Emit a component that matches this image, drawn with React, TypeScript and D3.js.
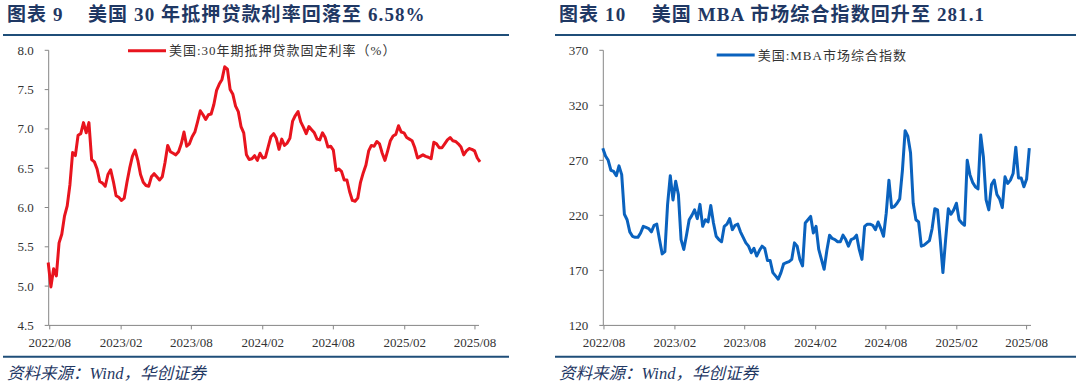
import React from "react";
import * as d3 from "d3";

// weekly Freddie Mac 30y fixed rate, from 2022-07-28
const rateStart = "2022-07-28";
const rateValues = [
  5.30, 4.99, 5.22, 5.13, 5.55, 5.66, 5.89, 6.02, 6.29, 6.70, 6.66, 6.92, 6.94, 7.08, 6.95, 7.08,
  6.61, 6.58, 6.49, 6.33, 6.31, 6.27, 6.42,
  6.48, 6.33, 6.15, 6.13, 6.09, 6.12, 6.32, 6.50, 6.65, 6.73, 6.60, 6.42, 6.32, 6.28, 6.27, 6.39,
  6.43, 6.39, 6.35, 6.39, 6.57, 6.79, 6.71, 6.69, 6.67, 6.71, 6.81, 6.96, 6.78, 6.81, 6.90, 6.96,
  7.09, 7.23, 7.18, 7.12, 7.18, 7.19, 7.31, 7.49, 7.57, 7.63, 7.79, 7.76, 7.50, 7.44, 7.29, 7.22,
  7.03, 6.95, 6.67, 6.61,
  6.62, 6.66, 6.60, 6.69, 6.63, 6.64, 6.77, 6.90, 6.94, 6.88, 6.74, 6.87, 6.79, 6.82, 6.88, 7.10,
  7.17, 7.22, 7.09, 7.02, 6.94, 7.03, 6.99, 6.95, 6.87, 6.86, 6.95, 6.89, 6.77, 6.78, 6.73, 6.47,
  6.49, 6.46, 6.35, 6.35, 6.20, 6.09, 6.08, 6.12, 6.32, 6.44, 6.54, 6.72, 6.79, 6.78, 6.84, 6.81,
  6.69, 6.60, 6.72, 6.85,
  6.91, 6.93, 7.04, 6.96, 6.95, 6.89, 6.87, 6.85, 6.76, 6.63, 6.65, 6.67, 6.65, 6.64, 6.62, 6.83,
  6.81, 6.76, 6.76, 6.81, 6.86, 6.89, 6.85, 6.84, 6.81, 6.77, 6.67, 6.72, 6.75, 6.74, 6.72, 6.63,
  6.58,
];

// weekly MBA composite index, from 2022-07-29
const mbaStart = "2022-07-29";
const mbaValues = [
  281, 274, 270, 261, 260, 256, 265, 257, 221, 216, 205, 201, 200, 200, 204, 210,
  209, 208, 205, 211, 212, 198, 185, 187, 230, 256, 234, 251, 239, 198, 189, 202,
  216, 220, 225, 217, 230, 210, 216, 214, 229, 213, 201, 198, 196, 210, 212, 217,
  207, 211, 212, 205, 200, 195, 192, 186, 190, 183, 188, 192, 190, 179, 179, 168,
  165, 162, 168, 176, 177, 178, 180, 195, 192, 180, 174, 213, 216, 219, 204, 210,
  189, 180, 171, 188, 202, 199, 198, 196, 196, 202, 198, 192, 198, 199, 202, 189,
  180, 210, 212, 212, 211, 207, 214, 208, 201, 222, 252, 227, 228, 231, 235, 261,
  297, 292, 277, 231, 216, 214, 192, 193, 195, 197, 208, 226, 225, 198, 168, 198,
  226, 221, 225, 231, 216, 213, 211, 270, 257, 250, 246, 244, 293, 273, 234, 225,
  248, 252, 239, 235, 227, 255, 249, 252, 258, 282, 254, 254, 246, 253, 281.1,
];

const xTickLabels = ["2022/08", "2023/02", "2023/08", "2024/02", "2024/08", "2025/02", "2025/08"];
const rateTicks = [4.5, 5.0, 5.5, 6.0, 6.5, 7.0, 7.5, 8.0];
const mbaTicks = [120, 170, 220, 270, 320, 370];

const NAVY = "#1F3864";
const RULE = "#1F4E79";
const AXIS = "#868686";
const TEXT = "#333333";
const SERIF = "'Liberation Serif', 'Noto Sans CJK SC', serif";

const DAY = 864e5;
const weekly = (start: string, values: number[]) =>
  values.map((v, i) => ({ date: new Date(Date.parse(start) + i * 7 * DAY), value: v }));
const tickDate = (s: string) => {
  const [y, m] = s.split("/").map(Number);
  return new Date(Date.UTC(y, m - 1, 1));
};

type PanelProps = {
  left: number;
  right: number;
  axisX: number;
  lineEnd: number;
  axisEnd: number;
  labelNo: string;
  title: string;
  titleX: number;
  legend: string;
  legendX: number;
  legendY: number;
  color: string;
  data: { date: Date; value: number }[];
  yTicks: number[];
  yDomain: [number, number];
  fmt: (v: number) => string;
};

function Panel(p: PanelProps) {
  const top = 50.3;
  const bottom = 325.4;
  const x = d3
    .scaleUtc()
    .domain([p.data[0].date, p.data[p.data.length - 1].date])
    .range([p.axisX - 0.5, p.lineEnd]);
  const y = d3.scaleLinear().domain(p.yDomain).range([bottom, top]);
  const path = d3
    .line<{ date: Date; value: number }>()
    .x((d) => x(d.date))
    .y((d) => y(d.value))(p.data);

  return (
    <g>
      <text fontFamily={SERIF} fontWeight="bold" fontSize={19} fill={NAVY} letterSpacing={1.1}>
        <tspan x={p.left + 4} y={20.5}>{p.labelNo}</tspan>
        <tspan x={p.titleX} y={20.5}>{p.title}</tspan>
      </text>
      <line x1={p.left} x2={p.right} y1={35} y2={35} stroke={RULE} strokeWidth={2} />

      {/* legend */}
      <line x1={p.legendX} x2={p.legendX + 38} y1={p.legendY} y2={p.legendY} stroke={p.color} strokeWidth={3} />
      <text
        x={p.legendX + 41}
        y={p.legendY}
        dy="0.36em"
        fontFamily={SERIF}
        fontSize={13}
        letterSpacing={1}
        fill={TEXT}
      >
        {p.legend}
      </text>

      {/* y axis */}
      <line x1={p.axisX} x2={p.axisX} y1={top} y2={bottom} stroke={AXIS} strokeWidth={1} />
      {p.yTicks.map((t) => (
        <g key={t}>
          <line x1={p.axisX - 4} x2={p.axisX} y1={y(t)} y2={y(t)} stroke={AXIS} />
          <text x={p.axisX - 15} y={y(t)} dy="0.35em" textAnchor="end" fontFamily={SERIF} fontSize={13} fill={TEXT}>
            {p.fmt(t)}
          </text>
        </g>
      ))}

      {/* x axis */}
      <line x1={p.axisX} x2={p.axisEnd} y1={bottom} y2={bottom} stroke={AXIS} strokeWidth={1} />
      {xTickLabels.map((l) => {
        const tx = x(tickDate(l));
        return (
          <g key={l}>
            <line x1={tx} x2={tx} y1={bottom} y2={bottom + 4} stroke={AXIS} />
            <text x={tx} y={346.5} textAnchor="middle" fontFamily={SERIF} fontSize={13} fill={TEXT}>
              {l}
            </text>
          </g>
        );
      })}

      <path d={path ?? ""} fill="none" stroke={p.color} strokeWidth={3} strokeLinejoin="round" />

      <line x1={p.left} x2={p.right} y1={356.7} y2={356.7} stroke={RULE} strokeWidth={2} />
      <text
        x={p.left + 4}
        y={379}
        fontFamily={SERIF}
        fontStyle="italic"
        fontSize={16.5}
        fill={NAVY}
      >
        资料来源：Wind，华创证券
      </text>
    </g>
  );
}

export default function App() {
  const rate = weekly(rateStart, rateValues);
  const mba = weekly(mbaStart, mbaValues);
  return (
    <div style={{ position: "absolute", left: 0, top: 0 }}>
      <svg width={1080} height={390} style={{ display: "block", background: "#fff" }}>
        <Panel
          left={3}
          right={509}
          axisX={48.7}
          lineEnd={480}
          axisEnd={479}
          labelNo="图表 9"
          title="美国 30 年抵押贷款利率回落至 6.58%"
          titleX={88}
          legend="美国:30年期抵押贷款固定利率（%）"
          legendX={128}
          legendY={50.7}
          color="#E8141E"
          data={rate}
          yTicks={rateTicks}
          yDomain={[4.5, 8]}
          fmt={(v) => v.toFixed(1)}
        />
        <Panel
          left={555}
          right={1076}
          axisX={603.3}
          lineEnd={1029.3}
          axisEnd={1031}
          labelNo="图表 10"
          title="美国 MBA 市场综合指数回升至 281.1"
          titleX={651.7}
          legend="美国:MBA市场综合指数"
          legendX={716.7}
          legendY={55}
          color="#0A62BE"
          data={mba}
          yTicks={mbaTicks}
          yDomain={[120, 370]}
          fmt={(v) => String(v)}
        />
      </svg>
    </div>
  );
}
